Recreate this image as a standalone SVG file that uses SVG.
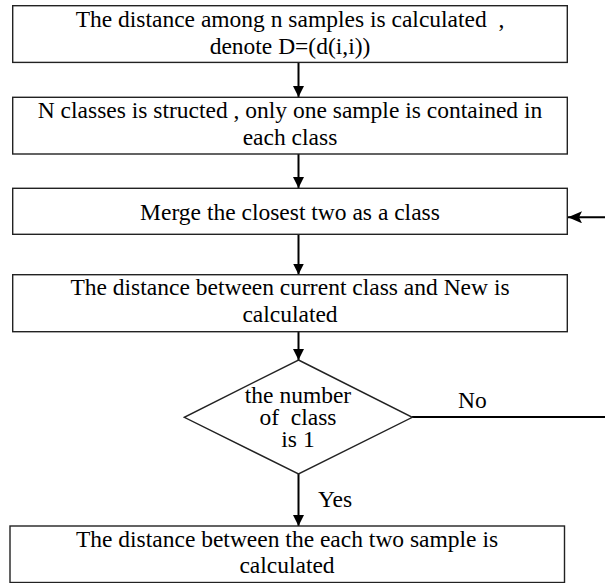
<svg xmlns="http://www.w3.org/2000/svg" width="605" height="583" viewBox="0 0 605 583">
<style>
.box{fill:#fff;stroke:#222;stroke-width:1.4}
.t{font-family:"Liberation Serif","Times New Roman",serif;font-size:23.5px;fill:#000;text-anchor:middle}
.lbl{font-family:"Liberation Serif","Times New Roman",serif;font-size:23.5px;fill:#000}
.c{fill:none;stroke:#000;stroke-width:2}
</style>
<defs>
<marker id="ah" viewBox="0 0 10 10" refX="10" refY="5" markerWidth="11" markerHeight="11" markerUnits="userSpaceOnUse" orient="auto">
<path d="M0,0 L10,5 L0,10 z" fill="#000"/>
</marker>
<marker id="ahw" viewBox="0 0 14 12" refX="14" refY="6" markerWidth="14" markerHeight="12" markerUnits="userSpaceOnUse" orient="auto">
<path d="M0,0 L14,6 L0,12 L3,6 z" fill="#000"/>
</marker>
</defs>
<rect width="605" height="583" fill="#fff"/>
<g id="connectors">
<line class="c" x1="298.5" y1="62.5" x2="298.5" y2="97" marker-end="url(#ah)"/>
<line class="c" x1="298.5" y1="154" x2="298.5" y2="188" marker-end="url(#ah)"/>
<line class="c" x1="298.5" y1="235" x2="298.5" y2="274.5" marker-end="url(#ah)"/>
<line class="c" x1="298.5" y1="331.5" x2="298.5" y2="360" marker-end="url(#ah)"/>
<line class="c" x1="298.5" y1="474" x2="298.5" y2="526" marker-end="url(#ah)"/>
<line class="c" x1="412" y1="417" x2="605" y2="417"/>
<line class="c" x1="605" y1="217.3" x2="568" y2="217.3" marker-end="url(#ahw)"/>
<text class="lbl" x="458" y="408">No</text>
<text class="lbl" x="318" y="506.5">Yes</text>
</g>
<g id="n1">
<rect class="box" x="12.7" y="5.7" width="554.6" height="56.7"/>
<text class="t" x="290" y="27.3" xml:space="preserve">The distance among n samples is calculated  ,</text>
<text class="t" x="290" y="53.5">denote D=(d(i,i))</text>
</g>
<g id="n2">
<rect class="box" x="12.7" y="97.3" width="554.6" height="56.7"/>
<text class="t" x="290" y="118.3">N classes is structed , only one sample is contained in</text>
<text class="t" x="290" y="145">each class</text>
</g>
<g id="n3">
<rect class="box" x="12.7" y="188.3" width="554.6" height="46"/>
<text class="t" x="290" y="220">Merge the closest two as a class</text>
</g>
<g id="n4">
<rect class="box" x="12.7" y="274.7" width="554.6" height="57"/>
<text class="t" x="290" y="295">The distance between current class and New is</text>
<text class="t" x="290" y="322">calculated</text>
</g>
<g id="n5">
<polygon class="box" points="298.5,360 412.3,417.3 298.5,474 184.3,417.3"/>
<text class="t" x="298" y="403.3">the number</text>
<text class="t" x="298" y="425" xml:space="preserve">of  class</text>
<text class="t" x="298" y="446.7">is 1</text>
</g>
<g id="n6">
<rect class="box" x="10" y="526" width="554.5" height="56.5"/>
<text class="t" x="287" y="546.7">The distance between the each two sample is</text>
<text class="t" x="287" y="573">calculated</text>
</g>
</svg>
